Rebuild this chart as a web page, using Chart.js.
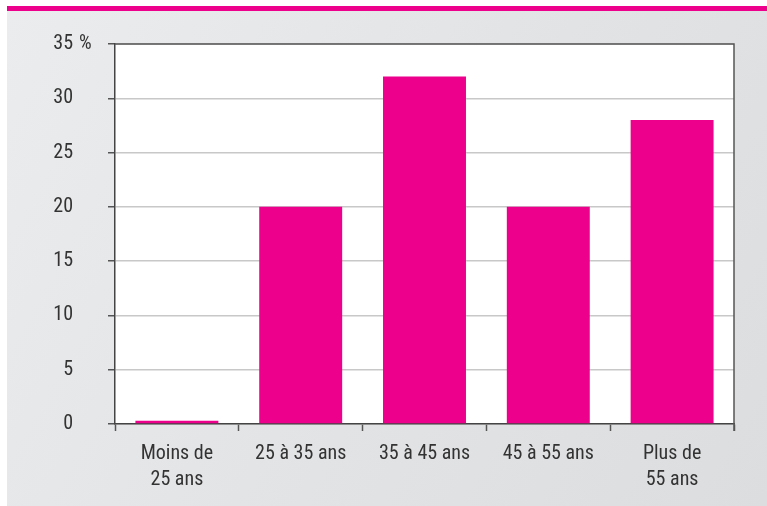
<!DOCTYPE html>
<html>
<head>
<meta charset="utf-8">
<script src="https://cdn.jsdelivr.net/npm/chart.js@4.4.1/dist/chart.umd.min.js"></script>
<style>
  html, body { margin: 0; padding: 0; background: #fff; }
  #wrap { position: relative; width: 767px; height: 506px; overflow: hidden; }
  #topline { position: absolute; left: 7px; top: 6px; width: 760px; height: 5px; background: #ec008c; }
  #panel { position: absolute; left: 7px; top: 11px; width: 760px; height: 495px;
           background: linear-gradient(120deg, #ebecee 0%, #e2e3e5 55%, #dcdddf 100%); }
  #tempChart { position: absolute; left: 0; top: 0; }
</style>
</head>
<body>
<div id="wrap">
  <div id="topline"></div>
  <div id="panel"></div>
  <canvas id="tempChart" width="767" height="506"></canvas>
</div>
<script>
const labels = [['Moins de', '25 ans'], '25 à 35 ans', '35 à 45 ans', '45 à 55 ans', ['Plus de', '55 ans']]
const shares = [0.3, 20, 32, 20, 28]
const yTicks = [0, 5, 10, 15, 20, 25, 30, 35]

const fontFamily = '"Roboto Condensed", "Liberation Sans Narrow", "Roboto", sans-serif'
const textColor = '#333333'

// white plot area, top + right frame, and the "%" after the top tick
const frame = {
    id: 'frame',
    beforeDraw(chart) {
        const a = chart.chartArea, c = chart.ctx;
        c.save();
        c.fillStyle = '#ffffff';
        c.fillRect(a.left, a.top, a.right - a.left, a.bottom - a.top);
        c.restore();
    },
    afterDraw(chart) {
        const a = chart.chartArea, c = chart.ctx;
        const y = chart.scales.y;
        c.save();
        c.strokeStyle = '#555555';
        c.lineWidth = 1.5;
        c.beginPath();
        c.moveTo(a.left, a.top);
        c.lineTo(a.right, a.top);
        c.lineTo(a.right, a.bottom + 7);
        c.stroke();
        c.fillStyle = textColor;
        c.font = '20px ' + fontFamily;
        c.textAlign = 'left';
        c.textBaseline = 'middle';
        c.fillText('%', 79, y.getPixelForValue(35));
        c.restore();
    }
};

var ctx = document.getElementById('tempChart').getContext('2d');
var chart = new Chart(ctx, {
    type: 'bar',
    data: {
        labels: labels,
        datasets: [{
            data: shares,
            backgroundColor: '#ec008c',
            borderWidth: 0,
            barPercentage: 0.67,
            categoryPercentage: 1
        }]
    },
    options: {
        responsive: false,
        animation: false,
        layout: { padding: { left: 0, right: 33, top: 44, bottom: 0 } },
        plugins: { legend: { display: false }, tooltip: { enabled: false } },
        scales: {
            x: {
                grid: {
                    offset: true,
                    drawOnChartArea: false,
                    tickLength: 7,
                    tickColor: '#555555',
                    tickWidth: 1.5
                },
                border: { color: '#444444', width: 1.5 },
                ticks: {
                    color: textColor,
                    padding: 10,
                    maxRotation: 0,
                    font: { family: fontFamily, size: 20, lineHeight: 1.3 }
                },
                afterFit(scale) { scale.height = 82; }
            },
            y: {
                min: 0,
                max: 35,
                afterBuildTicks(scale) { scale.ticks = yTicks.map(v => ({ value: v })); },
                grid: {
                    color: '#c8c8c8',
                    lineWidth: 1.5,
                    tickLength: 7,
                    tickColor: '#555555',
                    tickWidth: 1.5
                },
                border: { color: '#444444', width: 1.5 },
                ticks: {
                    color: textColor,
                    padding: 35,
                    font: { family: fontFamily, size: 20 }
                },
                afterFit(scale) {
                    scale.width = 115;
                    scale.paddingTop = 0;
                    scale.paddingBottom = 0;
                }
            }
        }
    },
    plugins: [frame]
});
</script>
</body>
</html>
